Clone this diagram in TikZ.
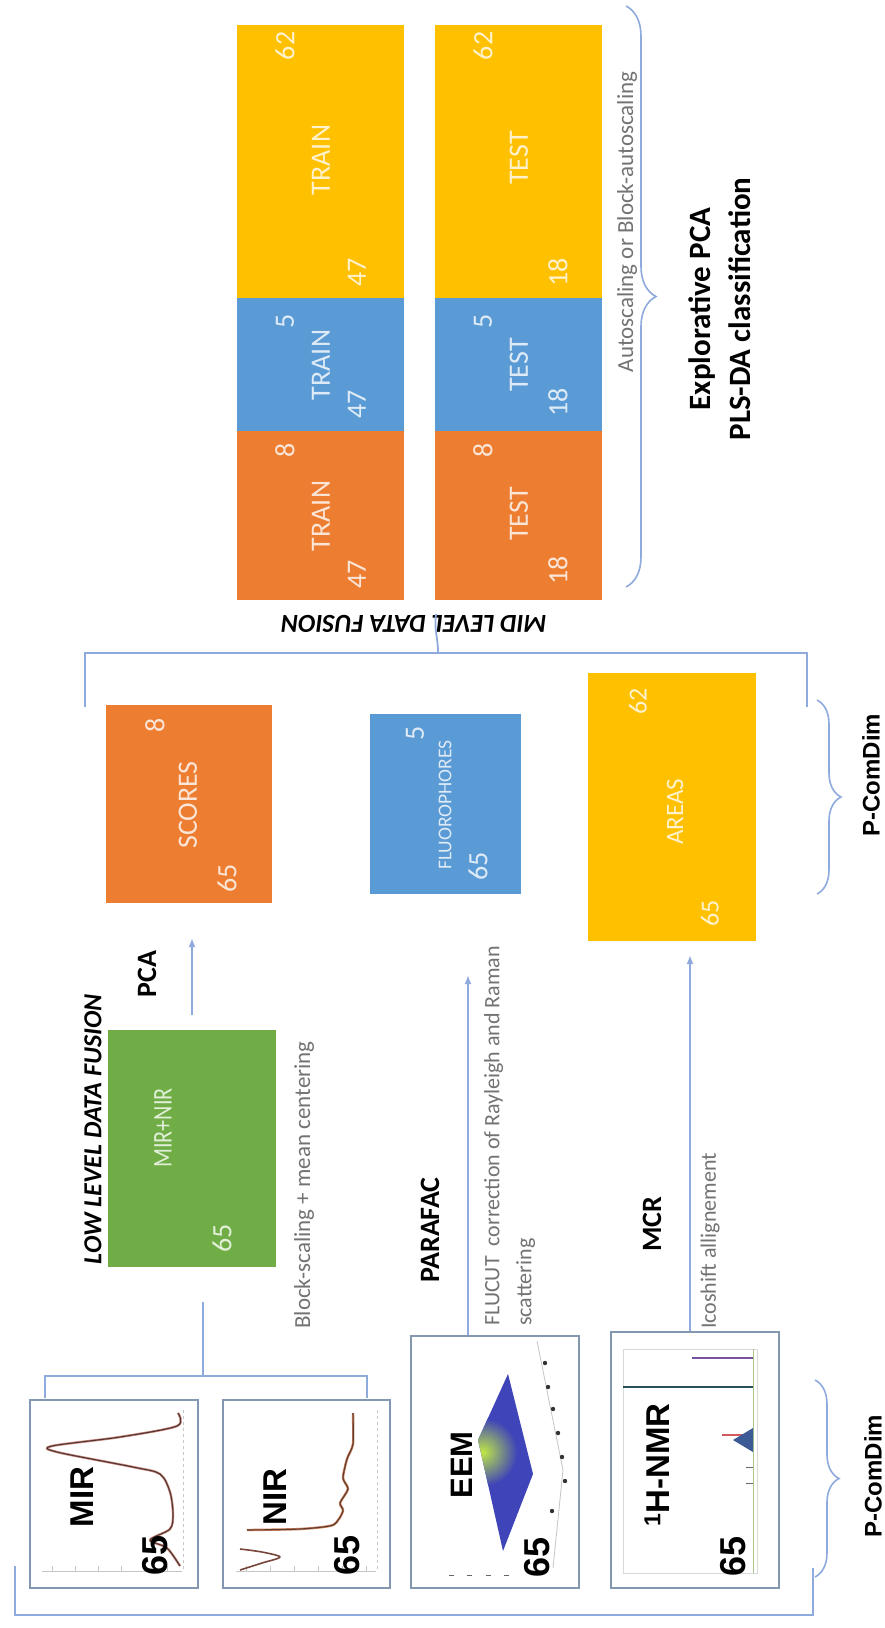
\documentclass[tikz,border=0pt]{standalone}
\usepackage{fontspec}
\usepackage{graphicx}
\setmainfont{Carlito}
\newfontfamily\arialf{Liberation Sans}
\usetikzlibrary{decorations.pathreplacing,arrows.meta,calc}
\definecolor{cOrange}{HTML}{ED7D31}
\definecolor{cBlue}{HTML}{5B9BD5}
\definecolor{cYellow}{HTML}{FFC000}
\definecolor{cGreen}{HTML}{70AD47}
\definecolor{tOrange}{HTML}{FBE5D6}
\definecolor{tBlue}{HTML}{DEEBF7}
\definecolor{tYellow}{HTML}{FFF2CC}
\definecolor{tGreen}{HTML}{E2F0D9}
\definecolor{lineBlue}{HTML}{8FAADC}
\definecolor{panelC}{HTML}{8497B0}
\definecolor{noteGray}{HTML}{737373}
\definecolor{eemBlue}{HTML}{3F45B8}
\definecolor{nmrPeak}{HTML}{3C5A96}
\begin{document}
\begin{tikzpicture}[x=1pt,y=-1pt,
  seg/.style={draw=none, inner sep=0, outer sep=0},
  lab/.style={rotate=90, inner sep=0, font=\fontsize{28}{32}\selectfont},
  panel/.style={draw=panelC, line width=1.8pt, fill=white, inner sep=0},
  note/.style={rotate=90, inner sep=0, text=noteGray, font=\fontsize{22}{32}\selectfont},
  bl/.style={rotate=90, inner sep=0, font=\bfseries\fontsize{28}{32}\selectfont},
  bigl/.style={rotate=90, inner sep=0, font=\arialf\bfseries\fontsize{33}{36}\selectfont},
  num/.style={rotate=90, inner sep=0, font=\arialf\bfseries\fontsize{36}{38}\selectfont},
  conn/.style={draw=lineBlue, line width=1.8pt},
  arr/.style={draw=lineBlue, line width=1.8pt, -{Latex[length=9pt,width=7pt]}},
  bracedec/.style={draw=lineBlue, line width=1.6pt, decorate, decoration={brace, amplitude=#1}},
  axisl/.style={draw=gray!45, line width=0.8pt}
]
\fill[white] (0,0) rectangle (885,1628);
\path[use as bounding box] (0,0) rectangle (885,1628);

% ---------------- top strips ----------------
\node[seg, fill=cYellow, minimum width=167pt, minimum height=273pt] (trY) at (320.5,161.5) {};
\node[seg, fill=cBlue,   minimum width=167pt, minimum height=133pt] (trB) at (320.5,364.5) {};
\node[seg, fill=cOrange, minimum width=167pt, minimum height=169pt] (trO) at (320.5,515.5) {};
\node[seg, fill=cYellow, minimum width=167pt, minimum height=273pt] (teY) at (518.5,161.5) {};
\node[seg, fill=cBlue,   minimum width=167pt, minimum height=133pt] (teB) at (518.5,364.5) {};
\node[seg, fill=cOrange, minimum width=167pt, minimum height=169pt] (teO) at (518.5,515.5) {};

\node[lab, text=tYellow] (trY62) at (285,46) {62};
\node[lab, text=tYellow] (trYt) at (321,160) {TRAIN};
\node[lab, text=tYellow] (trY47) at (357,272) {47};
\node[lab, text=tBlue] (trB5) at (285,321) {5};
\node[lab, text=tBlue] (trBt) at (321,365) {TRAIN};
\node[lab, text=tBlue] (trB47) at (357,404) {47};
\node[lab, text=tOrange] (trO8) at (285,450) {8};
\node[lab, text=tOrange] (trOt) at (321,516) {TRAIN};
\node[lab, text=tOrange] (trO47) at (357,574) {47};

\node[lab, text=tYellow] (teY62) at (483,46) {62};
\node[lab, text=tYellow] (teYt) at (519,158) {TEST};
\node[lab, text=tYellow] (teY18) at (558,272) {18};
\node[lab, text=tBlue] (teB5) at (483,321) {5};
\node[lab, text=tBlue] (teBt) at (519,365) {TEST};
\node[lab, text=tBlue] (teB18) at (558,402) {18};
\node[lab, text=tOrange] (teO8) at (483,450) {8};
\node[lab, text=tOrange] (teOt) at (519,514) {TEST};
\node[lab, text=tOrange] (teO18) at (558,570) {18};

\node[note, font=\fontsize{23}{30}\selectfont] (autosc) at (627,222) {Autoscaling or Block-autoscaling};
\coordinate (topBrT) at (626,6);
\coordinate (topBrB) at (626,587);
\draw[bracedec=30pt] (topBrT) -- (topBrB);
\node[rotate=90, inner sep=0, align=center, font=\bfseries\fontsize{31}{40}\selectfont] (explo) at (720,309) {Explorative PCA\\PLS-DA classification};

\node[rotate=180, inner sep=0, font=\bfseries\itshape\fontsize{26}{30}\selectfont] (midtxt) at (414,624) {MID LEVEL DATA FUSION};

% ---------------- mid bracket ----------------
\coordinate (mbL) at (85,707);
\coordinate (mbLc) at (85,653);
\coordinate (mbRc) at (807,653);
\coordinate (mbR) at (807,707);
\coordinate (mbTb) at (438,653);
\coordinate (mbTt) at (436,614);
\draw[conn] (mbL) -- (mbLc) -- (mbRc) -- (mbR);
\draw[conn] (mbTb) .. controls (438,636) and (434,632) .. (mbTt);

% ---------------- mid boxes ----------------
\node[seg, fill=cOrange, minimum width=166pt, minimum height=198pt] (scores) at (189,804) {};
\node[lab, text=tOrange] (sc8) at (155,725) {8};
\node[lab, text=tOrange] (scT) at (188,805) {SCORES};
\node[lab, text=tOrange] (sc65) at (227,878) {65};

\node[seg, fill=cBlue, minimum width=151pt, minimum height=180pt] (fluo) at (445.5,804) {};
\node[lab, text=tBlue] (fl5) at (415,733) {5};
\node[lab, text=tBlue, font=\fontsize{19.5}{22}\selectfont] (flT) at (445,805) {FLUOROPHORES};
\node[lab, text=tBlue] (fl65) at (478,866) {65};

\node[seg, fill=cYellow, minimum width=168pt, minimum height=268pt] (areas) at (672,807) {};
\node[lab, text=tYellow, font=\fontsize{26}{30}\selectfont] (ar62) at (638,701) {62};
\node[lab, text=tYellow, font=\fontsize{25}{30}\selectfont] (arT) at (675,812) {AREAS};
\node[lab, text=tYellow, font=\fontsize{26}{30}\selectfont] (ar65) at (710,913) {65};

\coordinate (pbrT) at (817,700);
\coordinate (pbrB) at (817,894);
\draw[bracedec=24pt] (pbrT) -- (pbrB);
\node[rotate=90, inner sep=0, font=\arialf\bfseries\fontsize{24}{28}\selectfont] (pcd1) at (871,775) {P-ComDim};

% ---------------- green box ----------------
\node[seg, fill=cGreen, minimum width=168pt, minimum height=237pt] (green) at (192,1148.5) {};
\node[lab, text=tGreen, font=\fontsize{27}{30}\selectfont] (grT) at (163,1128) {\scalebox{0.82}[1]{MIR+NIR}};
\node[lab, text=tGreen, font=\fontsize{28}{30}\selectfont] (gr65) at (222,1238) {65};
\node[rotate=90, inner sep=0, font=\bfseries\itshape\fontsize{26}{30}\selectfont] (lowtxt) at (93,1129) {LOW LEVEL DATA FUSION};
\node[note, font=\fontsize{23}{30}\selectfont] (blocksc) at (304,1185) {Block-scaling + mean centering};

\node[bl] (pcaT) at (147,974) {PCA};
\coordinate (pcaBot) at ($(green.north)+(0,-15)$);
\coordinate (pcaTop) at ($(scores.south -| green.north)+(0,35)$);
\draw[arr] (pcaBot) -- (pcaTop);

% ---------------- panels ----------------
\node[panel, minimum width=168pt, minimum height=188pt] (mir) at (114,1494) {};
\node[panel, minimum width=167pt, minimum height=188pt] (nir) at (306.5,1494) {};
\node[panel, minimum width=168pt, minimum height=252pt] (eem) at (495,1462) {};
\node[panel, minimum width=168pt, minimum height=256pt] (nmr) at (695,1460) {};

% MIR plot
\draw[axisl] (42,1571) -- (182,1571);
\foreach \yy in {52,75,98,121,144,167} {\draw[axisl] (\yy,1571) -- (\yy,1566);}
\draw[axisl, dashed] (183,1410) -- (183,1571);
\draw[draw={rgb,255:red,205;green,140;blue,130}, line width=2.4pt, line join=round]
  plot[smooth, tension=0.5] coordinates {(178,1413) (177,1426) (120,1437) (52,1446) (57,1452) (133,1467) (160,1474) (170,1492) (173,1514) (170,1529) (150,1540) (167,1548) (180,1566)};
\draw[draw={rgb,255:red,80;green,55;blue,50}, line width=1.1pt, line join=round]
  plot[smooth, tension=0.5] coordinates {(178,1413) (177,1426) (120,1437) (52,1446) (57,1452) (133,1467) (160,1474) (170,1492) (173,1514) (170,1529) (150,1540) (167,1548) (180,1566)};
\node[bigl] (mirT) at (82,1497) {MIR};
\node[num] (mir65) at (155,1555) {65};

% NIR plot
\draw[axisl] (236,1571) -- (376,1571);
\foreach \yy in {246,270,294,318,342,366} {\draw[axisl] (\yy,1571) -- (\yy,1566);}
\draw[axisl, dashed] (377,1410) -- (377,1571);
\draw[draw={rgb,255:red,205;green,130;blue,95}, line width=2.4pt, line join=round]
  plot[smooth, tension=0.4] coordinates {(353,1413) (353,1444) (347,1459) (343,1478) (348,1489) (340,1503) (343,1511) (333,1525) (300,1529) (247,1530)};
\draw[draw={rgb,255:red,95;green,60;blue,45}, line width=1.1pt, line join=round]
  plot[smooth, tension=0.4] coordinates {(353,1413) (353,1444) (347,1459) (343,1478) (348,1489) (340,1503) (343,1511) (333,1525) (300,1529) (247,1530)};
\draw[draw={rgb,255:red,120;green,70;blue,60}, line width=1.6pt, line join=round]
  plot[smooth, tension=0.5] coordinates {(240,1549) (262,1552) (280,1557) (262,1563) (240,1570)};
\node[bigl] (nirT) at (275,1497) {NIR};
\node[num] (nir65) at (347,1555) {65};

% EEM plot
\draw[axisl] (537,1341) -- (563,1470) -- (553,1568);
\foreach \pp in {(545,1363),(548,1387),(553,1409),(558,1433),(562,1457),(565,1481),(552,1511)} {\fill[black!80] \pp circle (2.2pt);}
\foreach \xx in {449,467,486,504} {\draw[black!60, line width=1pt] (\xx,1575) -- (\xx+5,1575);}
\begin{scope}
  \clip (508,1374) -- (533,1474) -- (503,1551) -- (478,1440) -- cycle;
  \fill[eemBlue] (470,1360) rectangle (540,1560);
  \shade[inner color={rgb,255:red,190;green,230;blue,70}, outer color=eemBlue] (483,1452) circle (34pt);
\end{scope}
\node[bigl, font=\arialf\bfseries\fontsize{31}{34}\selectfont] (eemT) at (462,1465) {EEM};
\node[num] (eem65) at (537,1557) {65};

% NMR plot
\draw[draw=gray!30, line width=0.8pt] (623,1349) rectangle (757,1573);
\draw[draw={rgb,255:red,170;green,200;blue,140}, line width=1pt] (753,1349) -- (753,1573);
\draw[draw={rgb,255:red,120;green,80;blue,160}, line width=1.6pt] (692,1358) -- (753,1358);
\draw[draw={rgb,255:red,40;green,80;blue,90}, line width=1.6pt] (623,1387) -- (753,1387);
\draw[draw={rgb,255:red,210;green,90;blue,90}, line width=1.4pt] (722,1435) -- (753,1435);
\fill[nmrPeak] (753,1428) -- (733,1440) -- (753,1452) -- cycle;
\foreach \yy in {1467,1483} {\draw[black!60, line width=1pt] (746,\yy) -- (753,\yy);}
\node[bigl] (nmrT) at (657,1465) {\textsuperscript{1}H-NMR};
\node[num] (nmr65) at (733,1556) {65};

% ---------------- low-level bracket ----------------
\coordinate (lbL) at (45,1398);
\coordinate (lbLc) at (45,1376);
\coordinate (lbRc) at (367,1376);
\coordinate (lbR) at (367,1398);
\coordinate (lbTb) at (203,1376);
\coordinate (lbTt) at (203,1302);
\draw[conn] (lbL) -- (lbLc) -- (lbRc) -- (lbR);
\draw[conn] (lbTb) -- (lbTt);

% ---------------- PARAFAC / MCR ----------------
\node[bl] (parT) at (430,1230) {PARAFAC};
\coordinate (parx) at (468,0);
\coordinate (parTop) at ($(fluo.south -| parx)+(0,81)$);
\draw[arr] (eem.north -| parx) -- (parTop);
\node[note, anchor=north west, align=left] (flucut) at (484,1326) {FLUCUT\ \ correction of Rayleigh and Raman\\scattering};

\node[bl] (mcrT) at (652,1224) {MCR};
\coordinate (mcrx) at (690,0);
\coordinate (mcrTop) at ($(areas.south -| mcrx)+(0,14)$);
\draw[arr] (nmr.north -| mcrx) -- (mcrTop);
\node[note] (icosh) at (710,1241) {Icoshift allignement};

% ---------------- bottom bracket & brace ----------------
\coordinate (bbL) at (15,1566);
\coordinate (bbLc) at (15,1615);
\coordinate (bbRc) at (813,1615);
\coordinate (bbR) at (813,1568);
\draw[conn] (bbL) -- (bbLc) -- (bbRc) -- (bbR);
\coordinate (pbr2T) at (815,1380);
\coordinate (pbr2B) at (815,1577);
\draw[bracedec=24pt] (pbr2T) -- (pbr2B);
\node[rotate=90, inner sep=0, font=\arialf\bfseries\fontsize{24}{28}\selectfont] (pcd2) at (873,1476) {P-ComDim};
\end{tikzpicture}
\end{document}
